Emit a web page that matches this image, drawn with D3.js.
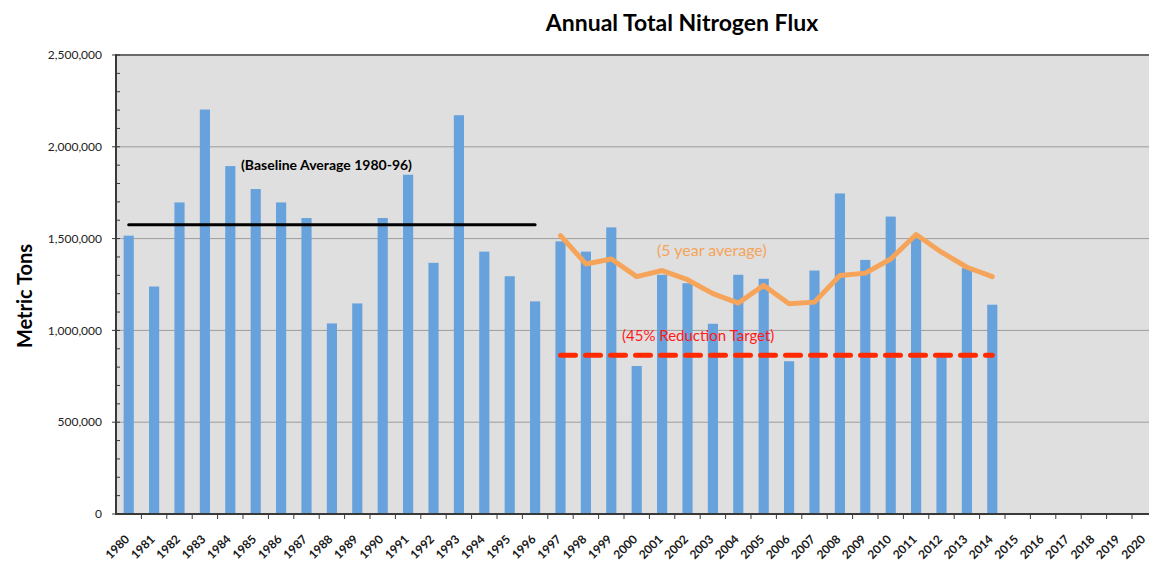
<!DOCTYPE html>
<html>
<head>
<meta charset="utf-8">
<script src="https://cdn.jsdelivr.net/npm/d3@7"></script>
<style>
  html, body { margin: 0; padding: 0; background: #ffffff; }
  svg { display: block; font-family: Lato, "Open Sans", sans-serif; }
</style>
</head>
<body>
<svg id="chart" width="1149" height="562"></svg>
<script>
// ---- data ----
const years = d3.range(1980, 2021).map(String);
const fluxYears = d3.range(1980, 2015).map(String);
const fluxValues = [
  1516000, 1239000, 1697000, 2203000, 1895000, 1770000, 1697000, 1612000,
  1038000, 1147000, 1612000, 1848000, 1368000, 2172000, 1429000, 1295000,
  1158000, 1485000, 1429000, 1561000, 806000, 1303000, 1257000, 1036000,
  1303000, 1281000, 832000, 1326000, 1746000, 1384000, 1620000, 1498000,
  865000, 1339000, 1140000
];
const avgYears = d3.range(1997, 2015).map(String);
const avgValues = [
  1516000, 1362000, 1389000, 1293000, 1326000, 1276000, 1200000, 1149000,
  1245000, 1145000, 1154000, 1299000, 1312000, 1389000, 1522000, 1426000,
  1344000, 1293000
];
const baselineValue = 1576000;
const baselineRange = ["1980", "1996"];
const targetValue = 864000;
const targetRange = ["1997", "2014"];
const yTicks = [0, 500000, 1000000, 1500000, 2000000, 2500000];
const yMinorTicks = d3.range(0, 2500001, 100000);

(function draw() {
// ---- layout ----
const svg = d3.select("#chart");
const pLeft = 116, pRight = 116 + 41 * 25.4, pTop = 55, pBottom = 514;

const x = d3.scaleBand().domain(years).range([pLeft, pRight])
  .paddingInner(0.6).paddingOuter(0.3);
const xEdge = d3.scaleBand().domain(years).range([pLeft, pRight]).padding(0);
const y = d3.scaleLinear().domain([0, 2500000]).range([pBottom, pTop]);
const cx = d => x(d) + x.bandwidth() / 2;

// background
svg.append("rect").attr("x", pLeft).attr("y", pTop)
  .attr("width", pRight - pLeft).attr("height", pBottom - pTop)
  .attr("fill", "#dfdfdf");

// gridlines
svg.append("g").selectAll("line").data(yTicks.filter(v => v > 0 && v < 2500000))
  .join("line")
  .attr("x1", pLeft).attr("x2", pRight)
  .attr("y1", d => y(d)).attr("y2", d => y(d))
  .attr("stroke", "#9c9c9c").attr("stroke-width", 1);

// top border
svg.append("line").attr("x1", pLeft).attr("x2", pRight)
  .attr("y1", y(2500000)).attr("y2", y(2500000))
  .attr("stroke", "#6a6a6a").attr("stroke-width", 2);

// bars
svg.append("g").selectAll("rect").data(fluxYears)
  .join("rect")
  .attr("x", d => x(d))
  .attr("width", x.bandwidth())
  .attr("y", (d, i) => y(fluxValues[i]))
  .attr("height", (d, i) => y(0) - y(fluxValues[i]))
  .attr("fill", "#67a2dd");

// baseline average line
svg.append("line")
  .attr("x1", cx(baselineRange[0])).attr("x2", cx(baselineRange[1]))
  .attr("y1", y(baselineValue)).attr("y2", y(baselineValue))
  .attr("stroke", "#000").attr("stroke-width", 3).attr("stroke-linecap", "round");

// 5-year average line
const line = d3.line().x(d => cx(d[0])).y(d => y(d[1]));
svg.append("path")
  .datum(avgYears.map((d, i) => [d, avgValues[i]]))
  .attr("d", line)
  .attr("fill", "none").attr("stroke", "#f6a459").attr("stroke-width", 5)
  .attr("stroke-linejoin", "round").attr("stroke-linecap", "round");

// reduction target dashed line
svg.append("line")
  .attr("x1", cx(targetRange[0])).attr("x2", cx(targetRange[1]))
  .attr("y1", y(targetValue)).attr("y2", y(targetValue))
  .attr("stroke", "#ff2a00").attr("stroke-width", 5)
  .attr("stroke-dasharray", "15,10").attr("stroke-linecap", "round");

// y axis
const yAxis = svg.append("g");
yAxis.append("line").attr("x1", pLeft).attr("x2", pLeft)
  .attr("y1", pTop - 1).attr("y2", pBottom + 1)
  .attr("stroke", "#3a3a3a").attr("stroke-width", 2);
yAxis.selectAll("line.minor").data(yMinorTicks).join("line").attr("class", "minor")
  .attr("x1", pLeft).attr("x2", pLeft + 4)
  .attr("y1", d => y(d)).attr("y2", d => y(d))
  .attr("stroke", "#3a3a3a").attr("stroke-width", 1);
yAxis.selectAll("line.major").data(yTicks).join("line").attr("class", "major")
  .attr("x1", pLeft - 4).attr("x2", pLeft)
  .attr("y1", d => y(d)).attr("y2", d => y(d))
  .attr("stroke", "#3a3a3a").attr("stroke-width", 1);
yAxis.selectAll("text").data(yTicks).join("text")
  .attr("x", 102).attr("y", d => y(d)).attr("dy", "0.35em")
  .attr("text-anchor", "end").attr("font-size", 12).attr("fill", "#222")
  .text(d => d3.format(",")(d));

// x axis
const xAxis = svg.append("g");
xAxis.append("line").attr("x1", pLeft - 1).attr("x2", pRight)
  .attr("y1", pBottom).attr("y2", pBottom)
  .attr("stroke", "#3a3a3a").attr("stroke-width", 2);
xAxis.selectAll("line.tick").data(years.slice(1)).join("line").attr("class", "tick")
  .attr("x1", d => xEdge(d)).attr("x2", d => xEdge(d))
  .attr("y1", pBottom).attr("y2", pBottom + 5)
  .attr("stroke", "#3a3a3a").attr("stroke-width", 1);
xAxis.selectAll("text").data(years).join("text")
  .attr("transform", d => `translate(${cx(d) - 1.5},${pBottom + 23}) rotate(-45)`)
  .attr("text-anchor", "end").attr("dy", "0.35em")
  .attr("font-size", 12).attr("font-weight", "bold").attr("fill", "#1a1a1a")
  .text(d => d);

// annotations
svg.append("text").attr("x", 241).attr("y", 165).attr("dy", "0.35em")
  .attr("font-size", 14).attr("font-weight", "bold").attr("fill", "#000")
  .text("(Baseline Average 1980-96)");
svg.append("text").attr("x", 657).attr("y", 250).attr("dy", "0.35em")
  .attr("font-size", 16).attr("font-weight", "normal").attr("fill", "#f6a459")
  .text("(5 year average)");
svg.append("text").attr("x", 622).attr("y", 336).attr("dy", "0.35em")
  .attr("font-size", 15).attr("font-weight", "normal").attr("fill", "#ff1a1a")
  .text("(45% Reduction Target)");

// title
svg.append("text").attr("x", 682).attr("y", 23).attr("dy", "0.35em")
  .attr("text-anchor", "middle").attr("font-size", 23).attr("font-weight", "bold")
  .attr("fill", "#000").text("Annual Total Nitrogen Flux");

// y axis label
svg.append("text").attr("transform", "translate(25,296) rotate(-90)")
  .attr("text-anchor", "middle").attr("dy", "0.35em")
  .attr("font-size", 20).attr("font-weight", "bold").attr("fill", "#000")
  .text("Metric Tons");
})();
</script>
</body>
</html>
